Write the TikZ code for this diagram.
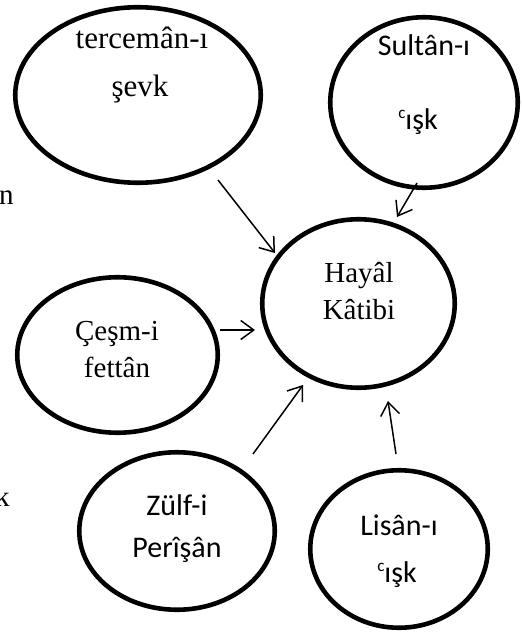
\documentclass[tikz,border=0pt]{standalone}
\usepackage{fontspec}
\setmainfont{Liberation Serif}
\newfontfamily\calibrisans{Carlito}
% small raised c used as the ayn mark
\newcommand{\aynmark}{\raisebox{11bp}{\fontsize{17bp}{17bp}\selectfont c}}
\usetikzlibrary{shapes.geometric,arrows.meta}

\tikzset{
  bubble/.style={ellipse, draw, line width=4.6bp, inner sep=0pt},
  serifword/.style={anchor=base, inner sep=0pt, font=\fontsize{29bp}{30bp}\selectfont},
  sansword/.style={anchor=base, inner sep=0pt, font=\calibrisans\fontsize{30bp}{32bp}\selectfont},
  arr/.style={line width=1.5bp, -{Straight Barb[length=13bp, width=19bp, line width=1.5bp]}},
}

\begin{document}
\begin{tikzpicture}[x=1bp, y=-1bp]
\useasboundingbox (0,0) rectangle (522,637);

% concept bubbles
\node[bubble, minimum width=245.5bp, minimum height=175.5bp] (terc)   at (138,95)    {};
\node[bubble, minimum width=187.5bp, minimum height=170.5bp] (sultan) at (424,102.5) {};
\node[bubble, minimum width=192.5bp, minimum height=168.5bp] (hayal)  at (358.5,303.5) {};
\node[bubble, minimum width=200.5bp, minimum height=155.5bp] (cesm)   at (117.5,355) {};
\node[bubble, minimum width=195.5bp, minimum height=157.5bp] (zulf)   at (177,531)   {};
\node[bubble, minimum width=177.5bp, minimum height=157.5bp] (lisan)  at (399,549)   {};

% bubble labels
\node[serifword, font=\fontsize{31bp}{32bp}\selectfont] (terc1) at (142,49) {tercemân-ı};
\node[serifword, font=\fontsize{31bp}{32bp}\selectfont] (terc2) at (140,97) {şevk};
\node[sansword] (sultan1) at (424,56)  {Sultân-ı};
\node[sansword] (sultan2) at (418,130) {\aynmark ışk};
\node[serifword] (hayal1) at (359,282) {Hayâl};
\node[serifword] (hayal2) at (359,319) {Kâtibi};
\node[serifword] (cesm1)  at (117,340) {Çeşm-i};
\node[serifword] (cesm2)  at (117,377) {fettân};
\node[sansword] (zulf1)  at (177,515) {Zülf-i};
\node[sansword] (zulf2)  at (177,557) {Perîşân};
\node[sansword] (lisan1) at (399,535) {Lisân-ı};
\node[sansword] (lisan2) at (397,582) {\aynmark ışk};

% clipped words at the left margin
\node[serifword, anchor=base west] (edge1) at (-1,204) {n};
\node[serifword, anchor=base west] (edge2) at (-5,506) {k};

% arrow ends
\coordinate (a1s) at (218,180); \coordinate (a1e) at (275,253);
\coordinate (a2s) at (417,183); \coordinate (a2e) at (397,217);
\coordinate (a3s) at (220,330); \coordinate (a3e) at (255,330);
\coordinate (a4s) at (253,454); \coordinate (a4e) at (303,385);
\coordinate (a5s) at (396,454); \coordinate (a5e) at (388,401);

\draw[arr] (a1s) -- (a1e);
\draw[arr] (a2s) -- (a2e);
\draw[arr] (a3s) -- (a3e);
\draw[arr] (a4s) -- (a4e);
\draw[arr] (a5s) -- (a5e);
\end{tikzpicture}
\end{document}
